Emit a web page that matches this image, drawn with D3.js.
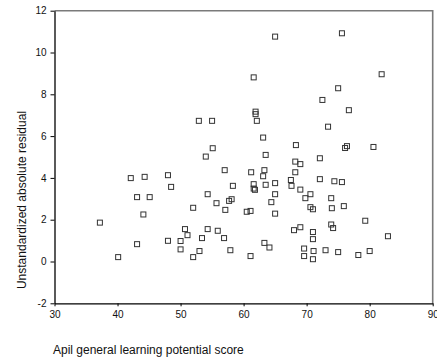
<!DOCTYPE html>
<html><head><meta charset="utf-8">
<script src="https://cdn.jsdelivr.net/npm/d3@7"></script>
<style>body{margin:0;background:#fff}svg{display:block}</style>
</head><body>
<svg id="c" width="437" height="362"></svg>
<script>
const scores = [37.2,40.1,42.1,44.3,43.1,45.1,44.1,43.1,48.0,48.5,48.0,50.0,50.0,52.0,53.0,53.4,56.9,57.9,61.1,63.3,64.1,50.7,51.1,54.3,55.9,52.0,54.3,55.7,57.1,57.7,58.1,60.5,61.1,57.0,58.3,61.2,61.6,61.6,61.8,63.3,63.1,63.5,65.0,65.0,64.4,65.0,63.5,63.1,62.1,61.9,61.9,61.6,65.0,52.9,55.0,55.1,54.0,68.3,68.2,69.0,68.2,67.5,67.6,69.0,68.0,69.0,69.6,69.6,71.0,71.0,71.1,71.0,73.0,75.0,78.2,80.0,82.9,79.3,73.9,74.2,70.6,71.0,74.0,75.9,69.8,73.9,70.6,72.1,74.4,75.6,72.1,76.1,76.4,80.6,73.4,76.7,72.5,75.0,81.9,75.6];
const residuals = [1.86,0.21,3.99,4.05,3.08,3.08,2.25,0.83,4.13,3.57,0.99,0.98,0.58,0.21,0.50,1.12,1.12,0.54,0.26,0.89,0.67,1.55,1.26,1.55,1.47,2.57,3.22,2.79,2.47,2.90,2.98,2.38,2.42,4.37,3.62,4.27,3.70,3.49,3.43,4.37,4.08,3.67,3.75,3.22,2.84,2.29,5.10,5.93,6.73,7.17,7.05,8.81,10.76,6.73,6.73,5.42,5.02,5.57,4.78,4.66,4.27,3.90,3.62,3.44,1.50,1.64,0.62,0.26,1.07,1.41,0.50,0.11,0.54,0.45,0.31,0.50,1.21,1.95,1.77,1.60,2.60,2.50,2.55,2.65,3.03,3.03,3.22,3.94,3.84,3.80,4.94,5.43,5.52,5.48,6.45,7.24,7.73,8.29,8.96,10.92];
const xTicks = [30,40,50,60,70,80,90];
const yTicks = [-2,0,2,4,6,8,10,12];
const xTitle = "Apil general learning potential score";
const yTitle = "Unstandardized absolute residual";

const svg = d3.select("#c");
const font = "'Liberation Sans', Arial, sans-serif";
const x = d3.scaleLinear().domain([30,90]).range([54.5,432.7]);
const y = d3.scaleLinear().domain([-2,12]).range([303.3,10.7]);

// frame (top/right grey)
svg.append("path").attr("d",`M${x(30)},${y(12)}H${x(90)}V${y(-2)}`)
  .attr("fill","none").attr("stroke","#7a7a7a").attr("stroke-width",1.6);

const gx = svg.append("g").attr("transform",`translate(0,${y(-2)})`)
  .call(d3.axisBottom(x).tickValues(xTicks).tickFormat(d=>String(d)).tickSize(3).tickPadding(5).tickSizeOuter(0));
const gy = svg.append("g").attr("transform",`translate(${x(30)},0)`)
  .call(d3.axisLeft(y).tickValues(yTicks).tickFormat(d=>String(d)).tickSize(4).tickPadding(4).tickSizeOuter(0));
[gx,gy].forEach(g=>{
  g.select(".domain").attr("stroke","#000").attr("stroke-width",1.3);
  g.selectAll(".tick line").attr("stroke","#000");
  g.selectAll("text").attr("font-family",font).attr("font-size",10).attr("fill","#111");
});

svg.append("g").selectAll("rect").data(scores.map((s,i)=>[s,residuals[i]])).join("rect")
  .attr("x",d=>x(d[0])-2.5).attr("y",d=>y(d[1])-2.5)
  .attr("width",5).attr("height",5)
  .attr("fill","none").attr("stroke","#333").attr("stroke-width",1);

svg.append("text").attr("x",53).attr("y",354).attr("font-family",font).attr("font-size",12)
  .attr("fill","#111").text(xTitle);
svg.append("text").attr("transform",`translate(25.5,200) rotate(-90)`).attr("text-anchor","middle")
  .attr("font-family",font).attr("font-size",12).attr("fill","#111").text(yTitle);
</script>
</body></html>
